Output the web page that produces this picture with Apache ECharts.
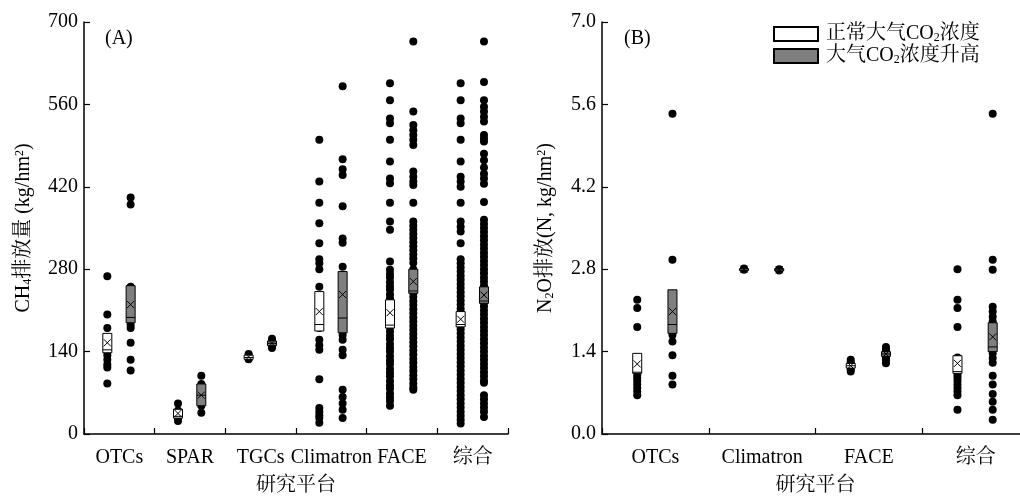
<!DOCTYPE html>
<html>
<head>
<meta charset="utf-8">
<script src="https://cdn.jsdelivr.net/npm/echarts@6/dist/echarts.min.js"></script>
<style>
html,body{margin:0;padding:0;background:#fff;}
#chart{width:1020px;height:497px;}
</style>
</head>
<body>
<div id="chart"></div>
<script>
// ---------------- DATA ----------------
const ch4Categories = ['OTCs', 'SPAR', 'TGCs', 'Climatron', 'FACE', '综合'];
const n2oCategories = ['OTCs', 'Climatron', 'FACE', '综合'];
const ch4Ticks = [0, 140, 280, 420, 560, 700];
const n2oTicks = [0.0, 1.4, 2.8, 4.2, 5.6, 7.0];
const seriesNames = ['正常大气CO2浓度', '大气CO2浓度升高'];

// CH4 points, ambient CO2 (one list per platform)
const ch4AmbientPoints = [
  [268, 203, 180, 160, 150, 140, 134, 126, 118, 113, 86],
  [52, 40, 35, 30, 26, 22],
  [136, 133, 130, 127],
  [500, 429, 393, 358, 324, 297, 290, 280, 250, 232, 214, 196, 180, 160, 151, 143, 93, 44, 38, 32, 27, 19],
  [596, 567, 536, 528, 500, 463, 434, 426, 393, 361, 347, 293, 279, 272, 266, 258, 251, 245, 237, 230, 224, 216, 209, 203, 195, 188, 182, 174, 167, 161, 153, 146, 140, 132, 125, 119, 111, 104, 98, 90, 83, 77, 69, 62, 56, 48],
  [596, 567, 536, 528, 500, 463, 437, 429, 420, 393, 361, 352, 344, 324, 297, 290, 283, 276, 269, 262, 255, 248, 241, 234, 227, 220, 213, 206, 199, 192, 185, 178, 171, 164, 157, 150, 143, 136, 129, 122, 115, 108, 101, 94, 87, 80, 73, 66, 59, 52, 45, 38, 31, 24, 18]
];
// CH4 points, elevated CO2
const ch4ElevatedPoints = [
  [402, 390, 250, 235, 220, 205, 185, 180, 155, 126, 108],
  [99, 85, 75, 66, 55, 48, 36],
  [162, 158, 154, 150, 146],
  [591, 467, 450, 440, 387, 332, 325, 284, 270, 250, 230, 210, 190, 176, 168, 160, 143, 134, 75, 63, 52, 41, 27],
  [667, 548, 525, 516, 508, 500, 491, 446, 437, 429, 423, 393, 361, 354, 347, 340, 333, 326, 319, 312, 305, 298, 291, 280, 270, 260, 250, 240, 233, 226, 219, 212, 205, 198, 191, 184, 177, 170, 163, 156, 149, 142, 135, 128, 121, 114, 107, 100, 93, 86, 79, 75],
  [667, 598, 567, 556, 548, 539, 531, 508, 502, 497, 476, 465, 453, 442, 434, 425, 394, 364, 357, 350, 343, 336, 329, 322, 315, 308, 301, 294, 287, 280, 273, 266, 259, 252, 245, 238, 231, 224, 217, 210, 203, 196, 189, 182, 175, 168, 161, 154, 147, 140, 133, 126, 119, 112, 105, 98, 91, 87, 66, 59, 52, 45, 38, 29]
];
// CH4 boxes: [low, high, median, mean]
const ch4AmbientBox = [[138, 171, 143, 155], [27, 42, 30, 35], [127, 134, 130, 131], [175, 242, 186, 208], [180, 228, 185, 206], [182, 208, 186, 195]];
const ch4ElevatedBox = [[189, 252, 198, 220], [48, 85, 66, 66], [150, 158, 154, 154], [172, 276, 197, 237], [239, 280, 243, 259], [222, 250, 226, 236]];

// N2O points
const n2oAmbientPoints = [
  [2.28, 2.14, 1.82, 1.30, 1.20, 1.10, 1.00, 0.95, 0.90, 0.84, 0.78, 0.72, 0.66],
  [2.81, 2.79],
  [1.26, 1.22, 1.18, 1.14, 1.10, 1.06],
  [2.80, 2.28, 2.14, 1.82, 1.30, 1.20, 1.10, 1.00, 0.95, 0.90, 0.84, 0.78, 0.72, 0.66, 0.41]
];
const n2oElevatedPoints = [
  [5.44, 2.96, 2.30, 2.10, 1.90, 1.68, 1.57, 1.34, 0.99, 0.84],
  [2.80, 2.78],
  [1.48, 1.44, 1.40, 1.36, 1.32, 1.28, 1.24, 1.20],
  [5.44, 2.96, 2.79, 2.16, 2.08, 1.99, 1.91, 1.80, 1.68, 1.57, 1.45, 1.37, 1.29, 1.21, 0.99, 0.84, 0.68, 0.55, 0.41, 0.24]
];
const n2oAmbientBox = [[1.03, 1.37, 1.05, 1.19], [2.79, 2.81, 2.80, 2.80], [1.12, 1.20, 1.16, 1.16], [1.03, 1.33, 1.06, 1.20]];
const n2oElevatedBox = [[1.71, 2.45, 1.86, 2.08], [2.77, 2.81, 2.79, 2.79], [1.32, 1.40, 1.36, 1.36], [1.40, 1.89, 1.48, 1.65]];

// ---------------- CHART ----------------
const FONT = "'Liberation Serif', 'Times New Roman', 'Noto Serif CJK SC', 'Noto Sans CJK SC', serif";
const OFF_A = 0.33, OFF_B = 0.66; // slot positions within a category
const GRAY = '#7f7f7f';
const rich = {
  sub: { fontSize: 12, fontFamily: FONT, color: '#000', padding: [8, 0, 0, 0] },
  sup: { fontSize: 12, fontFamily: FONT, color: '#000', padding: [0, 0, 8, 0] }
};

function pts(lists, off) {
  const out = [];
  lists.forEach((l, i) => l.forEach(v => out.push([i + off, v])));
  return out;
}
function boxes(list, off) {
  return list.map((b, i) => [i + off, b[0], b[1], b[2], b[3]]);
}
function renderBox(params, api) {
  const x = api.value(0);
  const lo = api.coord([x, api.value(1)]);
  const hi = api.coord([x, api.value(2)]);
  const med = api.coord([x, api.value(3)]);
  const mean = api.coord([x, api.value(4)]);
  const w = 9, h = 3.5;
  const st = api.style();
  return {
    type: 'group',
    children: [
      { type: 'rect', shape: { x: lo[0] - w / 2, y: hi[1], width: w, height: Math.max(lo[1] - hi[1], 2) },
        style: { fill: st.fill, stroke: '#000', lineWidth: 1 } },
      { type: 'line', shape: { x1: lo[0] - w / 2, y1: med[1], x2: lo[0] + w / 2, y2: med[1] },
        style: { stroke: '#000', lineWidth: 1 } },
      { type: 'line', shape: { x1: mean[0] - h, y1: mean[1] - h, x2: mean[0] + h, y2: mean[1] + h },
        style: { stroke: '#000', lineWidth: 1 } },
      { type: 'line', shape: { x1: mean[0] - h, y1: mean[1] + h, x2: mean[0] + h, y2: mean[1] - h },
        style: { stroke: '#000', lineWidth: 1 } }
    ]
  };
}

const axisLine = { show: true, lineStyle: { color: '#000', width: 1.5 } };
const axisTick = { show: true, inside: true, length: 6, lineStyle: { color: '#000', width: 1.2 } };
const labelStyle = { color: '#000', fontSize: 20, fontFamily: FONT };

function catAxis(grid, cats) {
  return {
    type: 'category', gridIndex: grid, data: cats, boundaryGap: true,
    axisLine, axisTick: Object.assign({ alignWithLabel: false, interval: 0 }, axisTick),
    axisLabel: Object.assign({ interval: 0, margin: 14 }, labelStyle),
    name: '研究平台', nameLocation: 'middle', nameGap: 42,
    nameTextStyle: { color: '#000', fontSize: 20, fontFamily: FONT },
    splitLine: { show: false }
  };
}
function valXAxis(grid, n) {
  return { type: 'value', gridIndex: grid, min: 0, max: n, show: false };
}
function dots(xi, yi, data) {
  return { type: 'scatter', xAxisIndex: xi, yAxisIndex: yi, symbolSize: 8, itemStyle: { color: '#000', opacity: 1 }, data, z: 2, silent: true };
}

const option = {
  backgroundColor: '#fff',
  animation: false,
  grid: [
    { left: 84, top: 22, width: 424, height: 412, containLabel: false, outerBoundsMode: 'none' },
    { left: 602, top: 22, width: 427, height: 412, containLabel: false, outerBoundsMode: 'none' }
  ],
  legend: {
    data: seriesNames,
    orient: 'vertical',
    left: 773, top: 24, padding: 0,
    icon: 'rect',
    itemWidth: 44, itemHeight: 14, itemGap: 2,
    selectedMode: false,
    formatter: n => n.replace('CO2', 'CO{sub|2}'),
    textStyle: { color: '#000', fontSize: 20, fontFamily: FONT, padding: [0, 0, 0, 3], rich }
  },
  xAxis: [
    catAxis(0, ch4Categories),
    catAxis(1, n2oCategories),
    valXAxis(0, ch4Categories.length),
    valXAxis(1, n2oCategories.length)
  ],
  yAxis: [
    {
      type: 'value', gridIndex: 0, min: ch4Ticks[0], max: ch4Ticks[ch4Ticks.length - 1], interval: ch4Ticks[1] - ch4Ticks[0],
      axisLine, axisTick, splitLine: { show: false },
      axisLabel: Object.assign({ margin: 6 }, labelStyle),
      name: 'CH{sub|4}排放量 (kg/hm{sup|2})', nameLocation: 'middle', nameRotate: 90, nameGap: 50,
      nameTextStyle: { color: '#000', fontSize: 20, fontFamily: FONT, rich }
    },
    {
      type: 'value', gridIndex: 1, min: n2oTicks[0], max: n2oTicks[n2oTicks.length - 1], interval: n2oTicks[1] - n2oTicks[0],
      axisLine, axisTick, splitLine: { show: false },
      axisLabel: Object.assign({ margin: 6, formatter: v => Number(v).toFixed(1) }, labelStyle),
      name: 'N{sub|2}O排放(N, kg/hm{sup|2})', nameLocation: 'middle', nameRotate: 90, nameGap: 46,
      nameTextStyle: { color: '#000', fontSize: 20, fontFamily: FONT, rich }
    }
  ],
  graphic: [
    { type: 'text', left: 105, top: 29, style: { text: '(A)', fill: '#000', font: "20px " + FONT } },
    { type: 'text', left: 624, top: 29, style: { text: '(B)', fill: '#000', font: "20px " + FONT } }
  ],
  series: [
    dots(2, 0, pts(ch4AmbientPoints, OFF_A)),
    dots(2, 0, pts(ch4ElevatedPoints, OFF_B)),
    dots(3, 1, pts(n2oAmbientPoints, OFF_A)),
    dots(3, 1, pts(n2oElevatedPoints, OFF_B)),
    { type: 'custom', name: seriesNames[0], xAxisIndex: 2, yAxisIndex: 0, renderItem: renderBox, itemStyle: { color: '#fff', borderColor: '#000', borderWidth: 1 }, data: boxes(ch4AmbientBox, OFF_A), encode: { x: 0, y: [1, 2] }, z: 5 },
    { type: 'custom', name: seriesNames[1], xAxisIndex: 2, yAxisIndex: 0, renderItem: renderBox, itemStyle: { color: GRAY, borderColor: '#000', borderWidth: 1 }, data: boxes(ch4ElevatedBox, OFF_B), encode: { x: 0, y: [1, 2] }, z: 5 },
    { type: 'custom', name: seriesNames[0], xAxisIndex: 3, yAxisIndex: 1, renderItem: renderBox, itemStyle: { color: '#fff', borderColor: '#000', borderWidth: 1 }, data: boxes(n2oAmbientBox, OFF_A), encode: { x: 0, y: [1, 2] }, z: 5 },
    { type: 'custom', name: seriesNames[1], xAxisIndex: 3, yAxisIndex: 1, renderItem: renderBox, itemStyle: { color: GRAY, borderColor: '#000', borderWidth: 1 }, data: boxes(n2oElevatedBox, OFF_B), encode: { x: 0, y: [1, 2] }, z: 5 }
  ]
};

const chart = echarts.init(document.getElementById('chart'), null, { renderer: 'canvas' });
chart.setOption(option);
</script>
</body>
</html>
